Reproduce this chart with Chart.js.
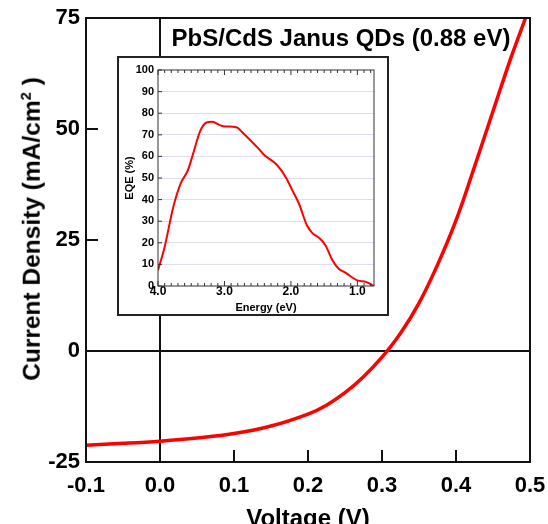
<!DOCTYPE html>
<html>
<head>
<meta charset="utf-8">
<script src="https://cdn.jsdelivr.net/npm/chart.js@4.4.0/dist/chart.umd.min.js"></script>
<style>
    html, body { margin: 0; padding: 0; background: #fff; }
    #wrap { position: relative; width: 548px; height: 524px; overflow: hidden; }
    #title {
        position: absolute; left: 341px; top: 26px; transform: translateX(-50%);
        font: bold 24px "Liberation Sans", Arial, sans-serif; line-height: 24px;
        color: #000; white-space: nowrap;
    }
    #ytitle {
        position: absolute; left: 32px; top: 229px;
        transform: translate(-50%, -50%) rotate(-90deg);
        font: bold 24.5px "Liberation Sans", Arial, sans-serif; line-height: 1;
        color: #000; white-space: nowrap;
    }
    #ytitle sup { font-size: 0.6em; line-height: 0; }
    #inset {
        position: absolute; left: 117px; top: 56px; width: 272px; height: 260px;
        box-sizing: border-box; border: 2px solid #222; background: #fff;
    }
    #inset canvas { display: block; }
</style>
</head>
<body>
<div id="wrap">
    <canvas id="jv" width="548" height="524"></canvas>
    <div id="title">PbS/CdS Janus QDs (0.88 eV)</div>
    <div id="ytitle">Current Density (mA/cm<sup>2</sup> )</div>
    <div id="inset"><canvas id="eqe" width="268" height="256"></canvas></div>
</div>
<script>
    // J-V curve
    var voltage = [-0.1, -0.05, 0.0, 0.05, 0.1, 0.15, 0.2, 0.225, 0.25, 0.275, 0.3, 0.325, 0.35, 0.375, 0.4, 0.425, 0.45, 0.475, 0.494];
    var currentDensity = [-21.2, -20.8, -20.3, -19.6, -18.6, -16.9, -14.2, -12.2, -9.4, -5.8, -1.4, 4.0, 10.8, 19.4, 29.4, 41.5, 54.0, 66.4, 75];
    var voltageTicks = [-0.1, 0.0, 0.1, 0.2, 0.3, 0.4, 0.5];
    var densityTicks = [-25, 0, 25, 50, 75];

    // EQE inset
    var energy = [4.0, 3.9, 3.77, 3.66, 3.55, 3.47, 3.37, 3.27, 3.19, 3.02, 2.81, 2.74, 2.61, 2.49, 2.41, 2.21, 2.08, 1.98, 1.88, 1.76, 1.68, 1.58, 1.48, 1.38, 1.28, 1.18, 1.0, 0.87, 0.75];
    var eqe = [7.3, 18.1, 36.6, 47.4, 53.6, 61.4, 71.4, 75.7, 76.0, 74.0, 73.4, 71.4, 67.5, 63.7, 60.9, 56.0, 50.5, 44.4, 38.2, 28.1, 24.6, 22.4, 18.9, 12.2, 8.0, 6.2, 2.6, 1.9, 0];
    var energyTicks = [4.0, 3.0, 2.0, 1.0];
    var eqeTicks = [0, 10, 20, 30, 40, 50, 60, 70, 80, 90, 100];

    var FONT = '"Liberation Sans", Arial, sans-serif';
    Chart.defaults.color = '#000';
    Chart.defaults.font.family = FONT;
    Chart.defaults.font.weight = 'bold';

    // frame round the plot area plus inward tick marks
    var frameTicks = {
        id: 'frameTicks',
        afterDatasetsDraw: function (chart, args, opts) {
            var ctx = chart.ctx, a = chart.chartArea;
            var xs = chart.scales.x, ys = chart.scales.y;
            ctx.save();
            ctx.strokeStyle = opts.color;
            ctx.lineWidth = opts.tickWidth;
            ctx.beginPath();
            (opts.xTicks || []).forEach(function (t) {
                var px = xs.getPixelForValue(t[0]);
                if (opts.bottom) { ctx.moveTo(px, a.bottom); ctx.lineTo(px, a.bottom - t[1]); }
                if (opts.top) { ctx.moveTo(px, a.top); ctx.lineTo(px, a.top + t[1]); }
            });
            (opts.yTicks || []).forEach(function (t) {
                var py = ys.getPixelForValue(t[0]);
                ctx.moveTo(a.left, py); ctx.lineTo(a.left + t[1], py);
            });
            ctx.stroke();
            ctx.lineWidth = opts.frameWidth;
            ctx.strokeRect(a.left, a.top, a.right - a.left, a.bottom - a.top);
            ctx.restore();
        }
    };

    function setTicks(list) {
        return function (scale) {
            scale.ticks = list.map(function (v) { return { value: v }; });
        };
    }

    // fixed axis box, no extra room for overhanging labels
    function fixX(h) {
        return function (s) { s.height = h; s.paddingLeft = 0; s.paddingRight = 0; };
    }
    function fixY(w) {
        return function (s) { s.width = w; s.paddingTop = 0; s.paddingBottom = 0; };
    }

    var zeroLine = function (c) {
        return c.tick && c.tick.value === 0 ? '#111' : 'rgba(0,0,0,0)';
    };

    // Main chart
    new Chart(document.getElementById('jv').getContext('2d'), {
        type: 'line',
        data: {
            datasets: [{
                data: voltage.map(function (v, i) { return { x: v, y: currentDensity[i] }; }),
                borderColor: '#ff0000',
                borderWidth: 3.5,
                pointRadius: 0,
                tension: 0.4
            }]
        },
        plugins: [frameTicks],
        options: {
            responsive: false,
            animation: false,
            layout: { padding: { top: 18, right: 18, bottom: 0, left: 0 } },
            plugins: {
                legend: { display: false },
                tooltip: { enabled: false },
                frameTicks: {
                    color: '#111', frameWidth: 2, tickWidth: 2, bottom: true, top: false,
                    xTicks: voltageTicks.map(function (v) { return [v, 12]; }),
                    yTicks: densityTicks.map(function (v) { return [v, 12]; })
                }
            },
            scales: {
                x: {
                    type: 'linear', min: -0.1, max: 0.5,
                    afterBuildTicks: setTicks(voltageTicks),
                    afterFit: fixX(62),
                    grid: { color: zeroLine, lineWidth: 2, drawTicks: false },
                    border: { display: false },
                    ticks: {
                        font: { size: 22 }, padding: 11,
                        callback: function (v) { return v.toFixed(1); }
                    },
                    title: {
                        display: true, text: 'Voltage (V)',
                        font: { size: 24 }, padding: { top: 0, bottom: -10 }
                    }
                },
                y: {
                    type: 'linear', min: -25, max: 75,
                    afterBuildTicks: setTicks(densityTicks),
                    afterFit: fixY(86),
                    grid: { color: zeroLine, lineWidth: 2, drawTicks: false },
                    border: { display: false },
                    ticks: { font: { size: 22 }, padding: 6 }
                }
            }
        }
    });

    // Inset EQE chart
    var minorEnergy = [];
    for (var k = 8; k <= 40; k++) {
        minorEnergy.push([k / 10, k % 10 === 0 ? 5 : 3]);
    }

    new Chart(document.getElementById('eqe').getContext('2d'), {
        type: 'line',
        data: {
            datasets: [{
                data: energy.map(function (e, i) { return { x: e, y: eqe[i] }; }),
                borderColor: '#ff0000',
                borderWidth: 2,
                pointRadius: 0,
                cubicInterpolationMode: 'monotone'
            }]
        },
        plugins: [frameTicks],
        options: {
            responsive: false,
            animation: false,
            layout: { padding: { top: 12, right: 13, bottom: 0, left: 0 } },
            plugins: {
                legend: { display: false },
                tooltip: { enabled: false },
                frameTicks: {
                    color: '#333', frameWidth: 1, tickWidth: 1, bottom: true, top: true,
                    xTicks: minorEnergy,
                    yTicks: eqeTicks.map(function (v) { return [v, 4]; })
                }
            },
            scales: {
                x: {
                    type: 'linear', min: 0.75, max: 4.0, reverse: true,
                    afterBuildTicks: setTicks(energyTicks),
                    afterFit: fixX(28),
                    grid: { display: false, drawTicks: false },
                    border: { display: false },
                    ticks: {
                        font: { size: 12, lineHeight: 1 }, padding: 0,
                        callback: function (v) { return v.toFixed(1); }
                    },
                    title: {
                        display: true, text: 'Energy (eV)',
                        font: { size: 11 }, padding: { top: 0, bottom: -1 }
                    }
                },
                y: {
                    type: 'linear', min: 0, max: 100,
                    afterBuildTicks: setTicks(eqeTicks),
                    afterFit: fixY(39),
                    grid: {
                        drawTicks: false, lineWidth: 1,
                        color: function (c) {
                            return c.tick && c.tick.value > 0 && c.tick.value < 100 ? '#dcdcf4' : 'rgba(0,0,0,0)';
                        }
                    },
                    border: { display: false },
                    ticks: { font: { size: 11 }, padding: 4 },
                    title: {
                        display: true, text: 'EQE (%)',
                        font: { size: 11 }, padding: { top: 4.5, bottom: 0 }
                    }
                }
            }
        }
    });
</script>
</body>
</html>
